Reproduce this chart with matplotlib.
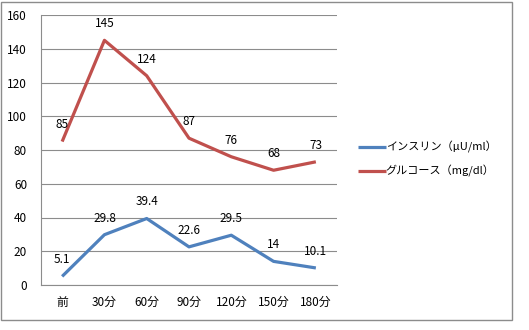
import matplotlib
matplotlib.use("Agg")
import matplotlib.pyplot as plt
from matplotlib.patches import Rectangle

plt.rcParams['font.family'] = ['Noto Sans CJK JP', 'DejaVu Sans']

categories = ['前', '30分', '60分', '90分', '120分', '150分', '180分']
insulin = [5.1, 29.8, 39.4, 22.6, 29.5, 14, 10.1]
glucose = [85, 145, 124, 87, 76, 68, 73]
insulin_labels = ['5.1', '29.8', '39.4', '22.6', '29.5', '14', '10.1']
glucose_labels = ['85', '145', '124', '87', '76', '68', '73']
series_names = ['インスリン（μU/ml）', 'グルコース（mg/dl）']
yticks = [0, 20, 40, 60, 80, 100, 120, 140, 160]

fig = plt.figure(figsize=(5.29, 3.30), dpi=100)
fig.patches.append(Rectangle((1/529, 1 - 320/330), 511/529, 318/330, transform=fig.transFigure,
                             fill=False, edgecolor='#8c8c8c', linewidth=1.0))

ax = fig.add_axes([41/529, 1 - 285/330, 296/529, 270/330])
x = list(range(len(categories)))
l1, = ax.plot(x, insulin, color='#4F81BD', linewidth=2.3, label=series_names[0], solid_capstyle='butt')
l2, = ax.plot(x, glucose, color='#C0504D', linewidth=2.3, label=series_names[1], solid_capstyle='butt')

fs = 8.5
for xi, v, t in zip(x, insulin, insulin_labels):
    ax.annotate(t, (xi, v), xytext=(0, 12), textcoords='offset points', ha='center', va='center',
                fontsize=fs, color='#000000')
for xi, v, t in zip(x, glucose, glucose_labels):
    ax.annotate(t, (xi, v), xytext=(0, 12), textcoords='offset points', ha='center', va='center',
                fontsize=fs, color='#000000')

ax.set_xlim(-0.5, len(categories) - 0.5)
ax.set_ylim(0, 160)
ax.set_yticks(yticks)
ax.set_xticks(x)
ax.set_xticklabels(categories)
ax.tick_params(axis='both', length=0, labelsize=fs, colors='#000000')
ax.tick_params(axis='x', pad=8)
ax.tick_params(axis='y', pad=10)
ax.grid(axis='y', color='#8c8c8c', linewidth=0.8)
ax.set_axisbelow(True)
for s in ['top', 'right']:
    ax.spines[s].set_visible(False)
for s in ['left', 'bottom']:
    ax.spines[s].set_color('#8c8c8c')
    ax.spines[s].set_linewidth(0.8)

fig.legend(handles=[l1, l2], loc='center left', bbox_to_anchor=(348/529, 1 - 159/330),
           frameon=False, fontsize=8, handlelength=2.5, handletextpad=0.0, labelspacing=1.1)

fig.savefig('out.png', dpi=100)
